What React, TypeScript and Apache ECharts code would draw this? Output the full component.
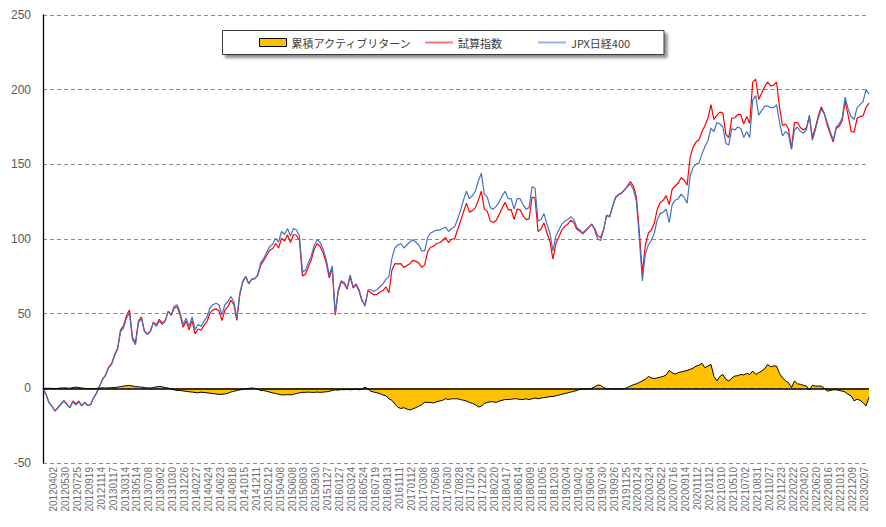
import React, { useEffect, useRef } from "react";
import * as echarts from "echarts";

const dates = [
  "20120402","20120416","20120501","20120516","20120530","20120613","20120627","20120711",
  "20120725","20120808","20120822","20120905","20120919","20121004","20121018","20121031",
  "20121114","20121128","20121212","20121228","20130117","20130131","20130214","20130228",
  "20130314","20130328","20130411","20130425","20130514","20130528","20130611","20130624",
  "20130708","20130722","20130805","20130820","20130902","20130917","20131001","20131016",
  "20131030","20131113","20131127","20131211","20131226","20140115","20140129","20140213",
  "20140227","20140313","20140327","20140410","20140424","20140513","20140527","20140609",
  "20140623","20140707","20140721","20140804","20140818","20140901","20140916","20141001",
  "20141015","20141029","20141113","20141127","20141211","20141225","20150115","20150129",
  "20150212","20150227","20150313","20150326","20150408","20150422","20150512","20150526",
  "20150608","20150622","20150706","20150721","20150803","20150817","20150831","20150914",
  "20150930","20151015","20151029","20151112","20151127","20151211","20151228","20160114",
  "20160127","20160210","20160225","20160310","20160324","20160407","20160421","20160510",
  "20160524","20160607","20160621","20160705","20160719","20160802","20160816","20160830",
  "20160913","20160928","20161013","20161027","20161111","20161125","20161209","20161226",
  "20170112","20170126","20170209","20170223","20170308","20170322","20170405","20170419",
  "20170508","20170522","20170605","20170616","20170630","20170714","20170731","20170814",
  "20170828","20170911","20170926","20171010","20171024","20171107","20171121","20171206",
  "20171220","20180110","20180124","20180206","20180220","20180306","20180320","20180403",
  "20180417","20180502","20180517","20180531","20180614","20180628","20180712","20180726",
  "20180809","20180823","20180906","20180920","20181005","20181019","20181102","20181116",
  "20181203","20181217","20190107","20190121","20190204","20190218","20190304","20190318",
  "20190402","20190416","20190514","20190521","20190604","20190618","20190702","20190716",
  "20190730","20190814","20190828","20190911","20190926","20191010","20191028","20191111",
  "20191125","20191209","20191223","20200109","20200124","20200207","20200225","20200310",
  "20200324","20200407","20200421","20200508","20200522","20200605","20200619","20200703",
  "20200716","20200731","20200814","20200828","20200914","20200929","20201014","20201028",
  "20201112","20201126","20201210","20201224","20210112","20210126","20210209","20210224",
  "20210310","20210324","20210407","20210421","20210510","20210524","20210607","20210618",
  "20210702","20210716","20210802","20210816","20210831","20210914","20210929","20211013",
  "20211027","20211110","20211125","20211209","20211223","20220111","20220125","20220208",
  "20220222","20220308","20220323","20220406","20220420","20220506","20220520","20220603",
  "20220620","20220704","20220719","20220802","20220816","20220830","20220913","20220928",
  "20221013","20221027","20221111","20221125","20221209","20221223","20230112","20230125",
  "20230207","20230221","20230307","20230320","20230403","20230417",
];

const jpx400 = [
  0, -4, -9.5, -12, -15, -13, -10.7, -8.5,
  -10.7, -13, -9, -11.3, -9, -11.8, -9.5, -11.3,
  -10.7, -6, -3, 1.5, 6, 8.7, 13.8, 16,
  22, 26, 38, 40.4, 47, 50.4, 32.7, 29.3,
  43.8, 47, 38, 36, 38, 43.8, 41.5, 45,
  42.7, 45, 51.5, 49.3, 55, 56, 50.4, 42.7,
  47, 41.5, 47.8, 39.3, 42.7, 41.5, 45, 47.8,
  53.8, 56, 57, 56, 49.3, 56, 58, 61.5,
  58, 47, 63.8, 72, 75, 70, 73, 73.5,
  76, 84, 87, 91, 95, 96.5, 100.5, 98,
  105, 103, 107, 102, 107, 106, 102, 78,
  79, 84, 89, 96, 99.5, 97.5, 93, 86,
  76, 82, 50, 66, 72, 71, 67, 76,
  68, 70, 66, 59, 55, 66, 66, 65,
  66, 68, 70, 73, 75, 87, 94, 96,
  97, 94, 96, 98, 99.5, 98, 96, 92,
  92, 101, 104, 105, 106, 106, 107, 108,
  105, 107, 108, 113, 119, 126, 132, 127,
  129, 132, 139, 144, 130, 128, 121, 120,
  122, 125, 129, 132, 127, 127, 120, 127,
  127, 123, 120, 121, 135, 134, 112, 113,
  117, 110, 104, 92, 102, 106, 110, 112,
  113, 115, 113, 108, 106, 104, 106, 108,
  110, 106, 100, 99, 106, 116, 115, 122,
  128, 130, 131, 133, 135, 137, 133, 125,
  100, 72, 90, 96, 99, 104, 113, 117,
  118, 120, 111, 123, 126, 127, 130, 128,
  124, 142, 148, 150, 151, 157, 162, 166,
  174, 172, 178, 177, 175, 164, 163, 174,
  173, 175, 174, 168, 172, 168, 193, 196,
  183, 186, 189, 189, 188, 188, 190, 178,
  169, 172, 170, 160, 173, 175, 172, 171,
  173, 183, 166, 173, 181, 187, 184, 178,
  172, 166, 175, 177, 181, 195, 187, 182,
  180, 188, 190, 192, 200, 197,
];

const trialIndex = [
  0, -4, -9.5, -12, -15.3, -13, -10.5, -8.2,
  -10.5, -13, -8.5, -10.5, -8.5, -11.6, -9.5, -11.5,
  -11, -6.2, -3, 1.7, 6.3, 8.9, 14.1, 16.5,
  22.5, 26.8, 39.2, 41.9, 48.8, 52.4, 34.2, 30.5,
  44.8, 47.8, 38.5, 36.3, 38.2, 44.3, 42.5, 46.2,
  43.7, 45.5, 51.7, 48.8, 54, 54.5, 49.1, 40.9,
  45, 39.2, 45.3, 36.5, 39.7, 38.9, 42.2, 44.8,
  50.5, 52.5, 53.2, 52, 45.3, 52.3, 54.7, 59,
  56, 45.5, 62.8, 71.3, 74.7, 70, 73.2, 73.5,
  75.5, 82.5, 85.5, 89, 92.5, 93.5, 97, 94,
  100.6, 98.6, 102.8, 97.6, 103, 102.5, 99, 75.3,
  76.3, 81.5, 86.3, 93.3, 97, 94.8, 90.5, 83.7,
  74, 80.5, 49, 64.8, 71.2, 70, 66.4, 75,
  67.2, 69.5, 65, 58.5, 55.8, 65.5, 64, 62.5,
  63, 64.5, 65.5, 68, 64, 79, 83.5, 83.3,
  83.5, 81, 82.2, 83.5, 85.7, 85, 84, 81,
  82.7, 91.5, 94.5, 95.2, 97, 97.5, 99, 101,
  97.5, 100, 100, 106, 112, 118, 124, 118,
  119, 121, 126, 132, 120, 118.5, 112, 111,
  112.5, 116.5, 121, 124.5, 119.5, 119.7, 113, 120,
  119.5, 115.5, 113, 113.5, 128, 127.5, 105, 106.5,
  110.8, 104, 98.5, 86.5, 97, 101.5, 106, 108.5,
  110, 112.5, 111, 106.5, 105.3, 103.5, 105.5, 107.7,
  110, 107, 102.2, 101, 106.5, 115.8, 114.7, 121.5,
  127.5, 129.6, 130.5, 132.8, 135.5, 138.5, 135.5, 128,
  104, 77, 96, 104, 106, 110.5, 120, 124.5,
  126, 129, 123, 133.5, 135.5, 137.5, 141, 139.5,
  136, 154.7, 161.5, 164.9, 166.5, 172, 176, 181,
  190, 180, 183, 185, 184.3, 170, 168, 181,
  181.2, 183.5, 183.3, 177, 182, 177.3, 205, 207,
  193.5, 197.6, 202, 205, 202.5, 203, 205, 188,
  176, 177, 173.8, 160.5, 177.9, 178, 174.7, 173,
  174.5, 182, 168, 174.5, 182.5, 188.5, 184, 176.2,
  170.5, 165, 174, 175.5, 179.2, 192.5, 183, 172,
  171.6, 180.7, 182, 182.4, 188.2, 191,
];

const activeReturn = [
  0, 0, 0, 0, -0.3, 0, 0.2, 0.3,
  0.2, 0, 0.5, 0.8, 0.5, 0.2, 0, -0.2,
  -0.3, -0.2, 0, 0.2, 0.3, 0.2, 0.3, 0.5,
  0.5, 0.8, 1.2, 1.5, 1.8, 2, 1.5, 1.2,
  1, 0.8, 0.5, 0.3, 0.2, 0.5, 1, 1.2,
  1, 0.5, 0.2, -0.5, -1, -1.5, -1.3, -1.8,
  -2, -2.3, -2.5, -2.8, -3, -2.6, -2.8, -3,
  -3.3, -3.5, -3.8, -4, -4, -3.7, -3.3, -2.5,
  -2, -1.5, -1, -0.7, -0.3, 0, 0.2, 0,
  -0.5, -1.5, -1.5, -2, -2.5, -3, -3.5, -4,
  -4.4, -4.4, -4.2, -4.4, -4, -3.5, -3, -2.7,
  -2.7, -2.5, -2.7, -2.7, -2.5, -2.7, -2.5, -2.3,
  -2, -1.5, -1, -1.2, -0.8, -1, -0.6, -1,
  -0.8, -0.5, -1, -0.5, 0.8, -0.5, -2, -2.5,
  -3, -3.5, -4.5, -5, -7, -8, -10.5, -12.7,
  -13.5, -13, -13.8, -14.5, -13.8, -13, -12, -11,
  -9.3, -9.5, -9.5, -9.8, -9, -8.5, -8, -7,
  -7.5, -7, -7, -7, -7.5, -8, -8.5, -9.5,
  -10, -11, -12.5, -12, -10, -9.5, -9, -9,
  -9.5, -8.5, -8, -7.5, -7.5, -7.3, -7, -7,
  -7.5, -7.5, -7, -7.5, -7, -6.5, -7, -6.5,
  -6.2, -6, -5.5, -5.5, -5, -4.5, -4, -3.5,
  -3, -2.5, -2, -1.5, -0.7, -0.5, -0.5, -0.3,
  0, 1, 2.2, 2, 0.5, -0.2, -0.3, -0.5,
  -0.5, -0.4, -0.5, -0.2, 0.5, 1.5, 2.5, 3,
  4, 5, 6, 8, 7, 6.5, 7, 7.5,
  8, 9, 12, 10.5, 9.5, 10.5, 11, 11.5,
  12, 12.7, 13.5, 14.9, 15.5, 16.7, 13.8, 15,
  16, 8, 5, 8, 9.3, 6, 4.9, 7,
  8.2, 8.5, 9.3, 9, 10, 9.3, 11.6, 9.3,
  10.5, 11.6, 13, 16, 14.5, 15, 14.9, 10,
  7, 5, 3.8, 0.5, 4.9, 3, 2.7, 2,
  1.5, -1, 2, 1.5, 1.5, 1.5, 0, -1.8,
  -1.5, -1, -1, -1.5, -1.8, -2.5, -4, -5,
  -8.4, -7.3, -8, -9.6, -11.8, -6,
];

const seriesNames = ["累積アクティブリターン", "試算指数", "JPX日経400"];
const yTicks = { min: -50, max: 250, interval: 50 };
const labelEvery = 4;

export default function App() {
  const ref = useRef<HTMLDivElement>(null);
  useEffect(() => {
    if (!ref.current) return;
    const chart = echarts.init(ref.current, null, { renderer: "svg" });
    const legendText = {
      color: "#404040",
      fontSize: 11,
      fontFamily: "'Noto Sans CJK JP', sans-serif",
    };
    chart.setOption({
      animation: false,
      backgroundColor: "#ffffff",
      textStyle: { fontFamily: "'Liberation Sans', Arial, sans-serif" },
      grid: { left: 43, right: 17, top: 15, bottom: 64, containLabel: false },
      graphic: [
        {
          type: "rect",
          z: 3,
          shape: { x: 222.5, y: 30.5, width: 441.5, height: 24 },
          style: {
            fill: "#ffffff",
            stroke: "#3a3a3a",
            lineWidth: 1,
            shadowBlur: 3,
            shadowOffsetX: 3,
            shadowOffsetY: 3,
            shadowColor: "rgba(0,0,0,0.45)",
          },
        },
      ],
      legend: [
        {
          z: 10,
          left: 259,
          top: 37,
          padding: 0,
          selectedMode: false,
          itemWidth: 27,
          itemHeight: 8,
          textStyle: legendText,
          data: [
            {
              name: seriesNames[0],
              icon: "rect",
              itemStyle: { color: "#FFC000", borderColor: "#000000", borderWidth: 1 },
            },
          ],
        },
        {
          z: 10,
          left: 425,
          top: 37,
          padding: 0,
          selectedMode: false,
          itemWidth: 28,
          itemHeight: 2,
          textStyle: legendText,
          data: [{ name: seriesNames[1], icon: "rect", itemStyle: { color: "#F47A7A", borderWidth: 0 } }],
        },
        {
          z: 10,
          left: 538,
          top: 37,
          padding: 0,
          selectedMode: false,
          itemWidth: 28,
          itemHeight: 2,
          textStyle: legendText,
          data: [{ name: seriesNames[2], icon: "rect", itemStyle: { color: "#9BB2DF", borderWidth: 0 } }],
        },
      ],
      xAxis: {
        type: "category",
        data: dates,
        boundaryGap: false,
        axisLine: { show: false },
        axisTick: { show: false },
        splitLine: { show: false },
        axisLabel: {
          interval: 0,
          formatter: (value: string, index: number) =>
            index % labelEvery === 0 && index + labelEvery < dates.length ? value : "",
          rotate: 90,
          margin: 4,
          fontSize: 10,
          color: "#6e6e6e",
          verticalAlign: "top",
          lineHeight: 21,
          fontFamily: "'Liberation Sans', Arial, sans-serif",
        },
      },
      yAxis: {
        type: "value",
        min: yTicks.min,
        max: yTicks.max,
        interval: yTicks.interval,
        axisLine: { show: true, lineStyle: { color: "#000000", width: 1.3 } },
        axisTick: { show: false },
        axisLabel: { margin: 12, fontSize: 12, color: "#595959" },
        splitLine: { show: true, lineStyle: { color: "#8c8c8c", width: 1, type: [4, 3] } },
      },
      series: [
        {
          name: seriesNames[0],
          type: "line",
          data: activeReturn,
          symbol: "none",
          color: "#FFC000",
          lineStyle: { color: "#000000", width: 1 },
          areaStyle: { color: "#FFC000", opacity: 1 },
          z: 2,
          markLine: {
            silent: true,
            symbol: "none",
            label: { show: false },
            lineStyle: { color: "#000000", width: 1.5, type: "solid" },
            data: [{ yAxis: 0 }],
          },
        },
        {
          name: seriesNames[1],
          type: "line",
          data: trialIndex,
          symbol: "none",
          color: "#FF0000",
          lineStyle: { color: "#FF0000", width: 1.2 },
          z: 3,
        },
        {
          name: seriesNames[2],
          type: "line",
          data: jpx400,
          symbol: "none",
          color: "#4472C4",
          lineStyle: { color: "#4472C4", width: 1.2 },
          z: 4,
        },
      ],
    });
    return () => chart.dispose();
  }, []);
  return (
    <div
      ref={ref}
      style={{ position: "fixed", left: 0, top: 0, width: 886, height: 527, background: "#fff" }}
    />
  );
}
